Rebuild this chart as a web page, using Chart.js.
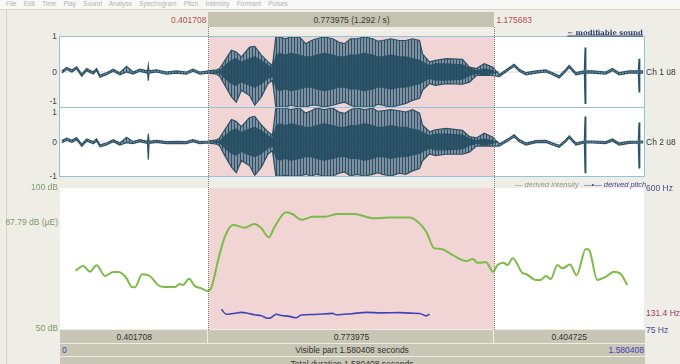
<!DOCTYPE html>
<html>
<head>
<meta charset="utf-8">
<script src="https://cdn.jsdelivr.net/npm/chart.js@4.4.1/dist/chart.umd.min.js"></script>
<style>
  html, body { margin: 0; padding: 0; }
  body {
    width: 680px; height: 364px; overflow: hidden; position: relative;
    background: #efeee6; color: #333;
    font-family: "Liberation Sans", Arial, sans-serif; font-size: 8.5px;
  }
  .abs { position: absolute; }
  .lbl { position: absolute; white-space: pre; line-height: 1; }
  canvas { position: absolute; background: #fff; }
</style>
</head>
<body>
<canvas id="ch1" width="584" height="70" style="left:60px;top:37px"></canvas>
<canvas id="ch2" width="584" height="68" style="left:60px;top:108px"></canvas>
<canvas id="intensity" width="584" height="141" style="left:60px;top:188px"></canvas>

<script>
// time axis (seconds)
const TOTAL = 1.580408;
const SEL_START = 0.401708;
const SEL_END = 1.175683;

// waveform envelope (amplitude -1..1)
const WAVE_T = [
  0.005, 0.018, 0.032, 0.045, 0.059, 0.072, 0.090, 0.099, 0.108, 0.126,
  0.144, 0.162, 0.180, 0.198, 0.216, 0.237, 0.239, 0.241, 0.261, 0.288,
  0.315, 0.342, 0.360, 0.378, 0.401,
  0.424, 0.432, 0.446, 0.464, 0.477, 0.491, 0.513, 0.527, 0.545, 0.563,
  0.575, 0.584, 0.594, 0.610, 0.625, 0.648, 0.665, 0.680, 0.694, 0.715,
  0.738, 0.755, 0.770, 0.786, 0.802, 0.825, 0.846, 0.860, 0.873, 0.895,
  0.918, 0.936, 0.954, 0.973, 0.981, 1.000, 1.016, 1.045, 1.089, 1.108,
  1.127, 1.148, 1.170,
  1.189, 1.216, 1.229, 1.243, 1.261, 1.288, 1.315, 1.333, 1.351, 1.369,
  1.378, 1.396, 1.419, 1.421, 1.423, 1.441, 1.477, 1.495, 1.513, 1.540,
  1.565, 1.567, 1.569, 1.578
];
const CH1_HI = [
  .03, .13, .06, .15, -.06, .10, 0, .10, -.09, -.02,
  .08, -.02, .16, 0, .08, .03, .20, .03, .06, 0,
  .03, 0, .08, 0, .03,
  .06, .10, .33, .62, .57, .43, .71, .73, .48, .29,
  .19, 1, 1, .95, 1, 1, .81, .9, .95, 1,
  .95, .85, .81, .95, .95, 1, .95, .88, .9, .95,
  .9, .9, .95, .9, .52, .29, .33, .38, .36, .14,
  .10, .24, .14,
  -.07, .13, .22, .08, -.02, .03, .06, -.02, -.11, .08,
  .19, -.02, .03, .70, .03, .03, 0, .10, -.02, .03,
  .03, .38, .03, .03
];
const CH1_LO = [
  -.03, .07, 0, .09, -.12, .04, -.06, .04, -.15, -.08,
  .02, -.08, 0, -.06, .02, -.03, -.25, -.03, 0, -.06,
  -.03, -.06, .02, -.06, -.03,
  -.06, -.12, -.38, -.71, -.86, -.52, -.67, -.95, -.71, -.33,
  -.24, -1, -1, -1, -.95, -1, -1, -.95, -.95, -1,
  -.95, -.9, -.86, -.95, -1, -1, -1, -.92, -.95, -1,
  -.95, -.9, -.81, -.75, -.52, -.33, -.38, -.33, -.35, -.29,
  -.10, -.10, -.10,
  -.13, .07, .16, .02, -.08, -.03, 0, -.08, -.17, .02,
  .13, -.08, -.03, -.90, -.03, -.03, -.06, .04, -.08, -.03,
  -.03, -.57, -.03, -.03
];
const CH2_HI = [
  .04, .11, .05, .13, -.07, .09, .01, .09, -.08, -.03,
  .07, -.03, .14, .01, .07, .02, .24, .02, .05, .01,
  .02, .01, .07, .01, .03,
  .06, .12, .36, .66, .60, .45, .72, .75, .50, .30,
  .20, 1, 1, 1, .95, 1, .85, .92, 1, .95,
  1, .88, .84, .95, 1, .95, 1, .9, .92, .95,
  .92, .88, .95, .85, .50, .30, .36, .40, .34, .16,
  .12, .26, .15,
  -.06, .12, .21, .07, -.03, .04, .05, -.03, -.10, .07,
  .18, -.03, .03, .75, .03, .03, .01, .09, -.03, .02,
  .03, .57, .03, .03
];
const CH2_LO = [
  -.02, .05, -.01, .07, -.13, .03, -.05, .03, -.14, -.09,
  .01, -.09, -.02, -.05, .01, -.04, -.52, -.04, -.01, -.05,
  -.04, -.05, .01, -.05, -.03,
  -.06, -.12, -.40, -.74, -.90, -.55, -.70, -.98, -.74, -.35,
  -.26, -1, -1, -.98, -1, -1, -.95, -1, -.95, -1,
  -1, -.92, -.88, -1, -.95, -1, -.95, -.9, -.95, -1,
  -.92, -.95, -.85, -.78, -.55, -.35, -.40, -.36, -.36, -.30,
  -.12, -.12, -.12,
  -.12, .06, .15, .01, -.09, -.02, -.01, -.09, -.16, .01,
  .12, -.09, -.03, -.90, -.03, -.03, -.05, .03, -.09, -.04,
  -.03, -.76, -.03, -.03
];
// dense inner part of the voiced stretch
const CORE_AMP = [
  0, 0, 0, 0, 0, 0, 0, 0, 0, 0,
  0, 0, 0, 0, 0, 0, 0, 0, 0, 0,
  0, 0, 0, 0, 0,
  .03, .05, .2, .35, .4, .3, .4, .45, .35, .2,
  .15, .5, .55, .5, .55, .5, .45, .45, .5, .55,
  .5, .45, .45, .5, .5, .55, .5, .45, .45, .5,
  .45, .45, .4, .35, .3, .2, .25, .25, .22, .12,
  .06, .1, .06,
  0, 0, 0, 0, 0, 0, 0, 0, 0, 0,
  0, 0, 0, 0, 0, 0, 0, 0, 0, 0,
  0, 0, 0, 0
];

// derived intensity (dB)
const INT_T = [
  0.042, 0.063, 0.081, 0.099, 0.122, 0.144, 0.159, 0.180, 0.195, 0.203,
  0.222, 0.243, 0.266, 0.284, 0.311, 0.324, 0.333, 0.349, 0.365, 0.383,
  0.399, 0.410, 0.428, 0.446, 0.468, 0.500, 0.525, 0.545, 0.565, 0.581,
  0.612, 0.630, 0.653, 0.684, 0.716, 0.752, 0.797, 0.846, 0.892, 0.946,
  0.968, 0.991, 1.013, 1.031, 1.063, 1.099, 1.117, 1.130, 1.153, 1.172,
  1.184, 1.200, 1.211, 1.225, 1.252, 1.261, 1.288, 1.301, 1.315, 1.328,
  1.346, 1.360, 1.380, 1.398, 1.423, 1.432, 1.454, 1.477, 1.499, 1.518, 1.535
];
const INT_DB = [
  70.7, 72.3, 70.3, 72.6, 68.8, 70.2, 70.2, 68.0, 64.8, 64.8,
  69.4, 68.8, 65.5, 64.9, 64.9, 66.0, 65.6, 67.8, 65.2, 64.4,
  63.5, 64.8, 74.5, 82.7, 86.9, 85.9, 87.2, 85.7, 82.5, 86.3,
  91.4, 90.7, 88.7, 89.8, 89.8, 90.8, 90.8, 89.3, 89.5, 89.5,
  88.0, 84.5, 78.6, 78.4, 76.2, 74.1, 74.8, 73.5, 73.7, 70.3,
  72.7, 73.5, 72.7, 75.1, 69.8, 69.5, 67.4, 67.4, 68.8, 67.7,
  72.7, 71.5, 72.9, 69.1, 78.4, 78.0, 67.4, 68.5, 70.3, 69.4, 65.6
];

// derived pitch (Hz)
const PITCH_T = [
  0.437, 0.450, 0.470, 0.491, 0.510, 0.527, 0.545, 0.563, 0.572, 0.585,
  0.600, 0.617, 0.639, 0.653, 0.690, 0.738, 0.748, 0.790, 0.829, 0.870,
  0.918, 0.950, 0.973, 0.991, 1.000
];
const PITCH_HZ = [
  148, 130, 133, 137, 133, 128, 124, 115, 118, 130,
  125, 123, 117, 127, 129, 133, 128, 132, 137, 135,
  136, 134, 133, 124, 130
];

const DB_RANGE = [50, 100];
const HZ_RANGE = [75, 600];
const DB_MEAN_LABEL = '87.79 dB (\u00b5E)';
const PITCH_CURSOR_LABEL = '131.4 Hz';

const PINK = '#f1d4d4';
const WAVE = '#2b5266';
const PLOT_LEFT = 60, PLOT_WIDTH = 584;
const tx = (t) => PLOT_LEFT + (t / TOTAL) * PLOT_WIDTH;

const pts = (xs, ys) => xs.map((x, i) => ({ x: x, y: ys[i] }));

// vertical striping like the individual periods Praat draws
const stripePattern = () => {
  const c = document.createElement('canvas');
  c.width = 3; c.height = 4;
  const g = c.getContext('2d');
  g.fillStyle = 'rgba(58,100,124,0.62)';
  g.fillRect(0, 0, 3, 4);
  g.fillStyle = 'rgba(38,78,102,0.95)';
  g.fillRect(0, 0, 1, 4);
  return g.createPattern(c, 'repeat');
};

const selectionPlugin = {
  id: 'selection',
  beforeDatasetsDraw(chart) {
    const { ctx, chartArea, scales } = chart;
    const x0 = scales.x.getPixelForValue(SEL_START);
    const x1 = scales.x.getPixelForValue(SEL_END);
    ctx.save();
    ctx.fillStyle = PINK;
    ctx.fillRect(x0, chartArea.top, x1 - x0, chartArea.bottom - chartArea.top);
    ctx.restore();
  }
};

const baseOptions = (yScales) => ({
  responsive: false,
  animation: false,
  events: [],
  layout: { padding: 0 },
  plugins: { legend: { display: false }, tooltip: { enabled: false } },
  elements: { point: { radius: 0 } },
  scales: Object.assign({ x: { type: 'linear', min: 0, max: TOTAL, display: false } }, yScales)
});

const renderChannel = (id, hi, lo) => {
  const core = CORE_AMP;
  new Chart(document.getElementById(id), {
    type: 'line',
    data: {
      datasets: [
        { data: pts(WAVE_T, core), borderWidth: 0, fill: false },
        { data: pts(WAVE_T, core.map((v) => -v)), borderWidth: 0, fill: '-1', backgroundColor: 'rgba(36,76,98,0.9)' },
        { data: pts(WAVE_T, hi), borderColor: WAVE, borderWidth: 1.2, fill: false },
        { data: pts(WAVE_T, lo), borderColor: WAVE, borderWidth: 1.2, fill: '-1', backgroundColor: stripePattern() },
        { data: pts([0, TOTAL], [0, 0]), borderColor: 'rgba(120,120,120,0.3)', borderWidth: 1, fill: false }
      ]
    },
    options: baseOptions({ y: { min: -1, max: 1, display: false } }),
    plugins: [selectionPlugin]
  });
};

renderChannel('ch1', CH1_HI, CH1_LO);
renderChannel('ch2', CH2_HI, CH2_LO);

new Chart(document.getElementById('intensity'), {
  type: 'line',
  data: {
    datasets: [
      { data: pts(PITCH_T, PITCH_HZ), yAxisID: 'yp', borderColor: '#3d46b8', borderWidth: 1.6, cubicInterpolationMode: 'monotone', fill: false },
      { data: pts(INT_T, INT_DB), yAxisID: 'y', borderColor: '#7cbb4a', borderWidth: 2, cubicInterpolationMode: 'monotone', fill: false }
    ]
  },
  options: baseOptions({
    y: { min: DB_RANGE[0], max: DB_RANGE[1], display: false },
    yp: { min: HZ_RANGE[0], max: HZ_RANGE[1], display: false, position: 'right' }
  }),
  plugins: [selectionPlugin]
});

// ---- window furniture (Praat editor) ----
const box = (x, y, w, h, style) => {
  const d = document.createElement('div');
  d.className = 'abs';
  Object.assign(d.style, { left: x + 'px', top: y + 'px', width: w + 'px', height: h + 'px' }, style || {});
  document.body.appendChild(d);
  return d;
};
const label = (text, x, y, align, style) => {
  const d = document.createElement('div');
  d.className = 'lbl';
  d.textContent = text;
  const tX = align === 'right' ? '-100%' : align === 'center' ? '-50%' : '0';
  Object.assign(d.style, { left: x + 'px', top: y + 'px', transform: 'translate(' + tX + ',-50%)' }, style || {});
  document.body.appendChild(d);
  return d;
};

// menu strip
box(0, 0, 680, 9, { background: '#f8f8f6', borderBottom: '1px solid #d6d6d0' });
label('File    Edit    Time    Play    Sound    Analyse    Spectrogram    Pitch    Intensity    Formant    Pulses', 6, 4, 'left', { color: '#b4b4b0', fontSize: '6.5px' });
box(6, 10, 1, 354, { background: '#d4d4cc' });

// selection bar at the top
const xs = tx(SEL_START), xe = tx(SEL_END);
box(xs, 12, xe - xs, 15, { background: '#c4c3b0' });
label((SEL_END - SEL_START).toFixed(6) + ' (' + (1 / (SEL_END - SEL_START)).toFixed(3) + ' / s)', (xs + xe) / 2, 20, 'center', { color: '#3a3a3a' });
label(SEL_START.toFixed(6), xs - 2, 20, 'right', { color: '#b24e4e' });
label(SEL_END.toFixed(6), xe + 2, 20, 'left', { color: '#b24e4e' });

// waveform frame
box(59, 36, 586, 141, { border: '1px solid #93c3da', boxSizing: 'border-box' });
box(59, 107, 586, 1, { background: '#93c3da' });
label('~ modifiable sound', 643, 32, 'right', { color: '#2c3f6a', fontFamily: '"DejaVu Serif", serif', fontWeight: 'bold', fontSize: '7px', textDecoration: 'underline' });
[[36, '1'], [72, '0'], [101, '-1'], [112, '1'], [142, '0'], [176, '-1']].forEach(([y, t]) => label(t, 57, y, 'right', { color: '#444' }));
label('Ch 1 \u00fc8', 646, 72, 'left', { color: '#333' });
label('Ch 2 \u00fc8', 646, 142, 'left', { color: '#333' });

// intensity / pitch labels
label(DB_RANGE[1] + ' dB', 58, 187, 'right', { color: '#7d9b6a' });
label(DB_MEAN_LABEL, 58, 222, 'right', { color: '#7d9b6a' });
label(DB_RANGE[0] + ' dB', 58, 328, 'right', { color: '#7d9b6a' });
label(HZ_RANGE[1] + ' Hz', 646, 188, 'left', { color: '#4a4a8a' });
label(PITCH_CURSOR_LABEL, 646, 313, 'left', { color: '#9b3c6a' });
label(HZ_RANGE[0] + ' Hz', 646, 330, 'left', { color: '#4a4a8a' });
label('\u2014 derived intensity', 515, 185, 'left', { color: '#8d9a86', fontStyle: 'italic', fontSize: '7.5px' });
label('\u2014\u2022\u2014 derived pitch', 584, 185, 'left', { color: '#3f4690', fontStyle: 'italic', fontSize: '7.5px' });

// dotted selection lines
[xs, xe].forEach((x) => box(Math.round(x), 27, 0, 303, { borderLeft: '1px dotted #7d7d7d' }));

// bottom duration bars
const BAR = '#c8c7b6';
box(PLOT_LEFT, 330, xs - PLOT_LEFT - 1, 13, { background: BAR });
box(xs, 330, xe - xs - 1, 13, { background: BAR });
box(xe, 330, PLOT_LEFT + PLOT_WIDTH + 1 - xe, 13, { background: BAR });
label(SEL_START.toFixed(6), (PLOT_LEFT + xs) / 2, 337, 'center');
label((SEL_END - SEL_START).toFixed(6), (xs + xe) / 2, 337, 'center');
label((TOTAL - SEL_END).toFixed(6), (xe + PLOT_LEFT + PLOT_WIDTH) / 2, 337, 'center');
box(PLOT_LEFT, 344, PLOT_WIDTH + 1, 12, { background: BAR });
label('0', 62, 350, 'left', { color: '#3f3fc0' });
label('Visible part ' + TOTAL.toFixed(6) + ' seconds', PLOT_LEFT + PLOT_WIDTH / 2, 350, 'center');
label(TOTAL.toFixed(6), PLOT_LEFT + PLOT_WIDTH, 350, 'right', { color: '#3f3fc0' });
box(PLOT_LEFT, 357, PLOT_WIDTH + 1, 12, { background: BAR });
label('Total duration ' + TOTAL.toFixed(6) + ' seconds', PLOT_LEFT + PLOT_WIDTH / 2, 364, 'center');
</script>
</body>
</html>
